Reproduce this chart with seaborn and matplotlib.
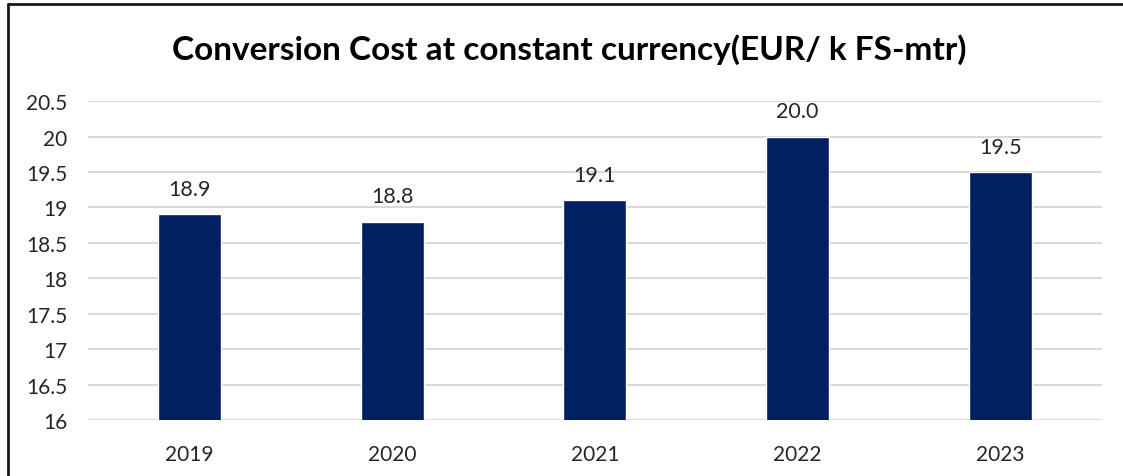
import matplotlib
matplotlib.use("Agg")
import matplotlib.pyplot as plt
import seaborn as sns
import pandas as pd
from matplotlib.lines import Line2D

years = ["2019", "2020", "2021", "2022", "2023"]
values = [18.9, 18.8, 19.1, 20.0, 19.5]
yticks = [16, 16.5, 17, 17.5, 18, 18.5, 19, 19.5, 20, 20.5]
ytick_labels = ["16", "16.5", "17", "17.5", "18", "18.5", "19", "19.5", "20", "20.5"]
title = "Conversion Cost at constant currency(EUR/ k FS-mtr)"

sns.set_theme(style="white")
plt.rcParams['font.family'] = ['Lato', 'DejaVu Sans']

df = pd.DataFrame({"year": years, "value": values})

fig = plt.figure(figsize=(11.23, 4.77), dpi=100)
ax = fig.add_axes([0.0784, 0.1174, 0.9026, 0.6686])

sns.barplot(data=df, x="year", y="value", color="#002060", width=0.31,
            saturation=1, ax=ax, zorder=3)

ax.set_ylim(16, 20.5)
ax.set_xlim(-0.5, 4.5)
ax.set_yticks(yticks)
ax.set_yticklabels(ytick_labels)
ax.yaxis.grid(True, color="#d9d9d9", linewidth=1.5, zorder=0)
ax.set_axisbelow(True)
for s in ax.spines.values():
    s.set_visible(False)
ax.set_xlabel("")
ax.set_ylabel("")
ax.tick_params(axis="y", length=0, labelsize=15, pad=15, colors="#262626")
ax.tick_params(axis="x", length=0, labelsize=15, pad=17, colors="#262626")

for i, v in enumerate(values):
    ax.annotate(f"{v:.1f}", (i, v), xytext=(0, 11), textcoords="offset points",
                ha="center", va="bottom", fontsize=15.5, color="#262626")

fig.text(0.507, 0.895, title, ha="center", va="center", fontsize=24,
         fontweight="bold", color="#000000")

# frame lines (top and left)
fig.add_artist(Line2D([0.007, 1.0], [0.989, 0.989], transform=fig.transFigure,
                      color="#1a1a1a", linewidth=2))
fig.add_artist(Line2D([0.007, 0.007], [0.0, 0.989], transform=fig.transFigure,
                      color="#1a1a1a", linewidth=2))

fig.savefig("out.png", dpi=100)
